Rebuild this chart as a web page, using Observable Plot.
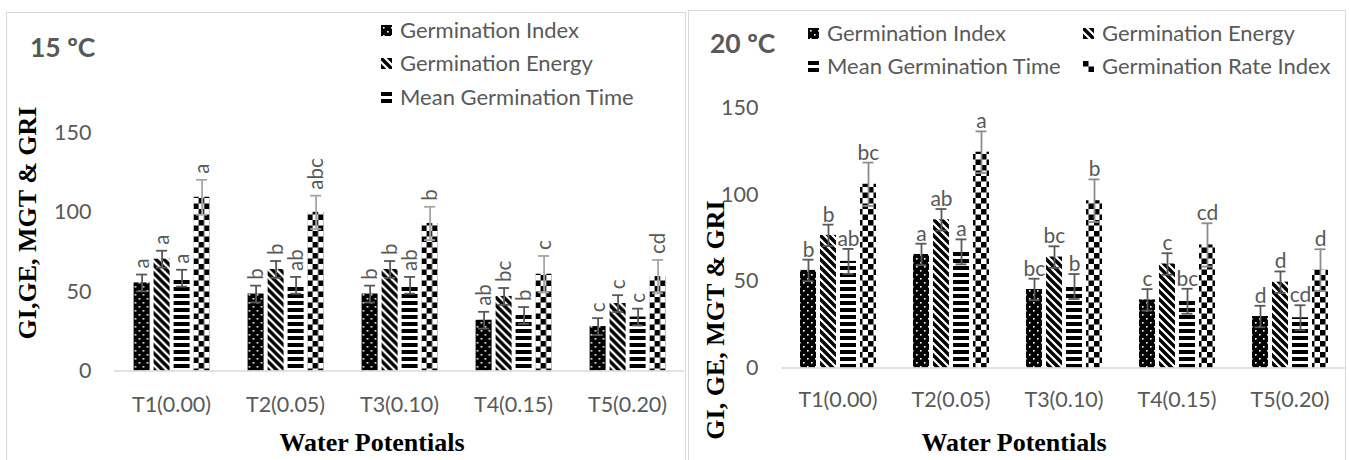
<!DOCTYPE html>
<html><head><meta charset="utf-8">
<script src="https://cdn.jsdelivr.net/npm/d3@7"></script>
<script src="https://cdn.jsdelivr.net/npm/@observablehq/plot@0.6"></script>
<style>
body{margin:0;background:#fff;}
#root{position:relative;width:1349px;height:460px;overflow:hidden;font-family:Lato,sans-serif;}
.border{position:absolute;border:1.5px solid #d9d9d9;box-sizing:border-box;}
.ttl{position:absolute;font-weight:bold;font-size:26.5px;color:#595959;line-height:1;white-space:nowrap;transform:translateY(-50%);}
.axt{position:absolute;font-family:"Liberation Serif","Times New Roman",serif;font-weight:bold;font-size:26px;color:#000;white-space:nowrap;line-height:1;transform:translate(-50%,-50%);}
.axt.rot{transform:translate(-50%,-50%) rotate(-90deg);}
.leg{position:absolute;display:flex;align-items:center;font-size:22px;color:#595959;white-space:nowrap;line-height:1;transform:translateY(-50%);}
.leg svg{margin-right:8px;}
.plot{position:absolute;top:0;}
</style></head>
<body>
<svg width="0" height="0" style="position:absolute">
<defs>
<pattern id="pGI" patternUnits="userSpaceOnUse" width="8" height="8"><rect width="8" height="8" fill="#000"/><rect x="2" y="2" width="1.6" height="1.6" fill="#fff"/><rect x="6" y="6" width="1.6" height="1.6" fill="#fff"/></pattern>
<pattern id="pGE" patternUnits="userSpaceOnUse" width="8" height="8"><rect width="8" height="8" fill="#fff"/><path d="M-2,-2L10,10M-2,6L2,10M6,-2L10,2" stroke="#000" stroke-width="3.4"/></pattern>
<pattern id="pMGT" patternUnits="userSpaceOnUse" width="7" height="7"><rect width="7" height="7" fill="#fff"/><rect width="7" height="4" fill="#000"/></pattern>
<pattern id="pGRI" patternUnits="userSpaceOnUse" width="11" height="11"><rect width="11" height="11" fill="#fff"/><rect width="5.5" height="5.5" fill="#000"/><rect x="5.5" y="5.5" width="5.5" height="5.5" fill="#000"/></pattern>
</defs>
</svg>
<div id="root"></div>
<script>
// ---- data ----
const categories = ["T1(0.00)", "T2(0.05)", "T3(0.10)", "T4(0.15)", "T5(0.20)"];
const seriesNames = ["Germination Index", "Germination Energy", "Mean Germination Time", "Germination Rate Index"];
const yTicks = [0, 50, 100, 150];

// 15 ºC
const gi15 = [55.5, 48.5, 48.5, 32, 28];
const ge15 = [70.5, 64, 64, 47, 42.5];
const mgt15 = [58.5, 54, 54, 35, 34];
const gri15 = [109.5, 100, 93, 61, 59.5];
const giErr15 = [5.3, 5.3, 5.3, 5.3, 5.3];
const geErr15 = [5.3, 5.3, 5.3, 5.3, 5.3];
const mgtErr15 = [5.3, 5.3, 5.3, 5.3, 5.3];
const griErr15 = [11, 10.5, 10.5, 11.5, 10.5];
const giLet15 = ["a", "b", "b", "ab", "c"];
const geLet15 = ["a", "b", "b", "bc", "c"];
const mgtLet15 = ["a", "ab", "ab", "b", "c"];
const griLet15 = ["a", "abc", "b", "c", "cd"];

// 20 ºC
const gi20 = [56.3, 65.5, 45.3, 39.3, 29.7];
const ge20 = [76.5, 85.5, 64, 60, 49.5];
const mgt20 = [61.5, 67, 47, 38.5, 29];
const gri20 = [106, 124.5, 96.5, 71, 56.5];
const giErr20 = [6.2, 6.2, 6.2, 6.2, 6.2];
const geErr20 = [6.2, 6.2, 6.2, 6.2, 6.2];
const mgtErr20 = [7.2, 7.2, 7.2, 7.2, 7.2];
const griErr20 = [12.5, 12, 12.3, 12.5, 12];
const giLet20 = ["b", "a", "bc", "c", "d"];
const geLet20 = ["b", "ab", "bc", "c", "d"];
const mgtLet20 = ["ab", "a", "b", "bc", "cd"];
const griLet20 = ["bc", "a", "b", "cd", "d"];

// ---- helpers ----
const patterns = {
  "Germination Index": "url(#pGI)",
  "Germination Energy": "url(#pGE)",
  "Mean Germination Time": "url(#pMGT)",
  "Germination Rate Index": "url(#pGRI)"
};

function rowsFrom(vals, errs, lets) {
  const out = [];
  seriesNames.forEach((s, si) => {
    categories.forEach((c, ci) => {
      out.push({cat: c, series: s, value: vals[si][ci], err: errs[si][ci], letter: lets[si][ci]});
    });
  });
  return out;
}

const rows15 = rowsFrom([gi15, ge15, mgt15, gri15], [giErr15, geErr15, mgtErr15, griErr15], [giLet15, geLet15, mgtLet15, griLet15]);
const rows20 = rowsFrom([gi20, ge20, mgt20, gri20], [giErr20, geErr20, mgtErr20, griErr20], [giLet20, geLet20, mgtLet20, griLet20]);

function panel(rows, o) {
  const errStroke = d => d.series === "Germination Rate Index" ? o.griErr : "#595959";
  return Plot.plot({
    width: o.width, height: 460,
    marginLeft: o.ml, marginRight: o.mr, marginTop: o.mt, marginBottom: o.mb,
    style: {fontFamily: "Lato, sans-serif", fontSize: "21.5px", color: "#595959", background: "transparent", overflow: "visible"},
    fx: {domain: categories, padding: 0, axis: "bottom", tickSize: 0, tickPadding: o.fxPad, label: null},
    x: {domain: seriesNames, paddingInner: 0.22, paddingOuter: o.xOuter, axis: null},
    y: {domain: [0, 150], ticks: yTicks, tickSize: 0, tickPadding: 23, label: null, axis: "left"},
    color: {type: "identity"},
    marks: [
      Plot.barY(rows, {fx: "cat", x: "series", y: "value", fill: d => patterns[d.series]}),
      Plot.ruleY([0], {stroke: "#d9d9d9", strokeWidth: 1.5}),
      Plot.ruleX(rows, {fx: "cat", x: "series", y1: d => d.value - d.err, y2: d => d.value + d.err,
        stroke: errStroke, strokeWidth: 1.8}),
      Plot.tickY(rows, {fx: "cat", x: "series", y: d => d.value + d.err, inset: 2.5, stroke: errStroke, strokeWidth: 1.8}),
      Plot.tickY(rows, {fx: "cat", x: "series", y: d => d.value - d.err, inset: 2.5, stroke: errStroke, strokeWidth: 1.8}),
      o.rotate
        ? Plot.text(rows, {fx: "cat", x: "series", y: d => d.value + d.err, text: "letter", rotate: -90,
            textAnchor: "start", dy: -6, fill: "#595959", fontSize: 20.5})
        : Plot.text(rows, {fx: "cat", x: "series", y: d => d.value + d.err, text: "letter",
            lineAnchor: "bottom", dy: -3, fill: "#595959", fontSize: 21})
    ]
  });
}

const root = document.getElementById("root");

function addDiv(cls, text, style) {
  const d = document.createElement("div");
  d.className = cls;
  if (text != null) d.textContent = text;
  Object.assign(d.style, style);
  root.appendChild(d);
  return d;
}

// panel borders
addDiv("border", null, {left: "6px", top: "12px", width: "680px", height: "470px"});
addDiv("border", null, {left: "688px", top: "10px", width: "658px", height: "470px"});

// left plot
const p1 = panel(rows15, {width: 690, ml: 113.4, mr: 5.4, mt: 132.5, mb: 89.5, fxPad: 26, xOuter: 0.897, griErr: "#a6a6a6", rotate: true});
p1.classList.add("plot"); p1.style.left = "0px";
root.appendChild(p1);

// right plot
const p2 = panel(rows20, {width: 669, ml: 100, mr: 3, mt: 107.5, mb: 92.5, fxPad: 24, xOuter: 0.87, griErr: "#8c8c8c", rotate: false});
p2.classList.add("plot"); p2.style.left = "680px";
root.appendChild(p2);

// titles
addDiv("ttl", "15 ºC", {left: "30px", top: "47px"});
addDiv("ttl", "20 ºC", {left: "710px", top: "43px"});

// axis titles
addDiv("axt rot", "GI,GE, MGT & GRI", {left: "28px", top: "223px"});
addDiv("axt rot", "GI, GE, MGT & GRI", {left: "716px", top: "320px"});
addDiv("axt", "Water Potentials", {left: "372px", top: "443px"});
addDiv("axt", "Water Potentials", {left: "1014px", top: "443px"});

// legends
function legendItem(name, x, y) {
  const d = addDiv("leg", null, {left: x + "px", top: y + "px"});
  const ns = "http://www.w3.org/2000/svg";
  const s = document.createElementNS(ns, "svg");
  s.setAttribute("width", "11"); s.setAttribute("height", "11");
  const r = document.createElementNS(ns, "rect");
  r.setAttribute("width", "11"); r.setAttribute("height", "11");
  r.setAttribute("fill", patterns[name]);
  s.appendChild(r);
  d.appendChild(s);
  d.appendChild(document.createTextNode(name));
}
legendItem(seriesNames[0], 381, 30);
legendItem(seriesNames[1], 381, 63);
legendItem(seriesNames[2], 381, 97);
legendItem(seriesNames[0], 808, 33);
legendItem(seriesNames[1], 1083, 33);
legendItem(seriesNames[2], 808, 66);
legendItem(seriesNames[3], 1083, 66);
</script>
</body></html>
